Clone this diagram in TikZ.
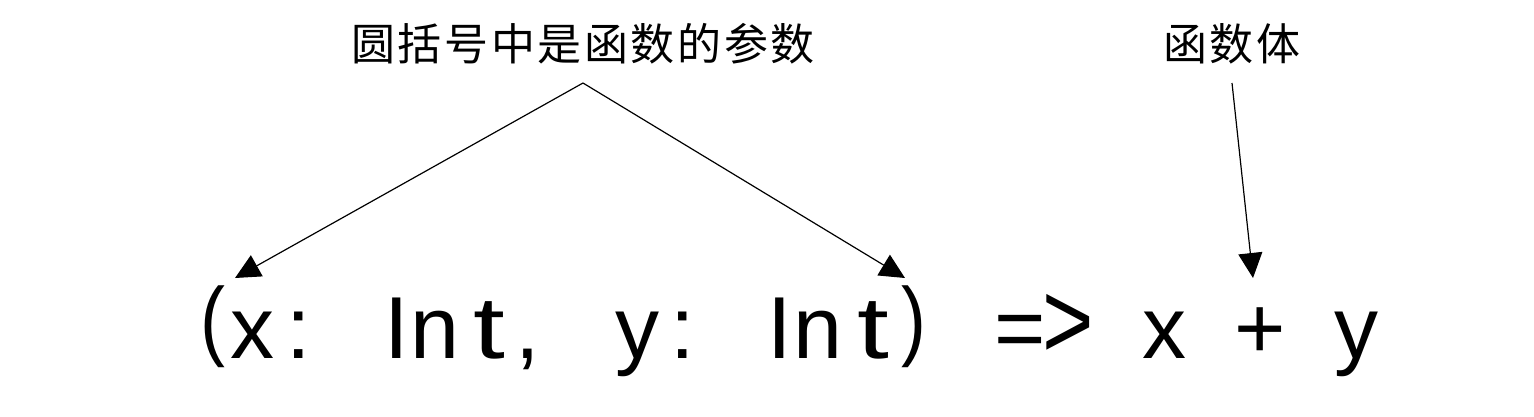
\documentclass[tikz,border=0pt]{standalone}
\usepackage{fontspec}
\setmainfont{Liberation Sans}
\newfontfamily\cjk[LetterSpace=6]{Noto Sans CJK SC}
\usetikzlibrary{arrows.meta}
\begin{document}
\begin{tikzpicture}[x=1pt,y=-1pt,
  glyph/.style={anchor=base,inner sep=0pt,font=\fontsize{88}{100}\selectfont},
  label/.style={inner sep=0pt,font=\cjk\fontsize{44}{50}\selectfont},
  pointer/.style={line width=1.2pt,-{Triangle[length=25pt,width=24pt]}}]
\useasboundingbox[fill=white] (0,0) rectangle (1534,416);
% code line
\node[glyph,xscale=0.85] (c1) at (213,349) {(};
\node[glyph] (c2) at (252,358) {x};
\node[glyph] (c3) at (299,358) {:};
\node[glyph] (c4) at (397,358) {I};
\node[glyph] (c5) at (435,358) {n};
\node[glyph,xscale=1.3] (c6) at (489,358) {t};
\node[glyph] (c7) at (528,358) {,};
\node[glyph] (c8) at (637,358) {y};
\node[glyph] (c9) at (683,358) {:};
\node[glyph] (c10) at (780,358) {I};
\node[glyph] (c11) at (818,358) {n};
\node[glyph,xscale=1.3] (c12) at (873,358) {t};
\node[glyph,xscale=0.85] (c13) at (914,349) {)};
\node[glyph] (c14) at (1020,358) {=};
\node[glyph,yscale=1.25] (c15) at (1068,358) {>};
\node[glyph] (c16) at (1164,358) {x};
\node[glyph] (c17) at (1260,358) {+};
\node[glyph] (c18) at (1356,358) {y};
% labels
\node[label] (params) at (583,44) {圆括号中是函数的参数};
\node[label] (body) at (1232,44) {函数体};
% connector ends
\coordinate (apex) at (583,83);
\coordinate (bodytop) at (1232,83);
\coordinate (tipL) at (235,278);
\coordinate (tipR) at (905,278);
\coordinate (tipB) at (1253,278);
\draw[pointer] (apex) -- (tipL);
\draw[pointer] (apex) -- (tipR);
\draw[pointer] (bodytop) -- (tipB);
\end{tikzpicture}
\end{document}
